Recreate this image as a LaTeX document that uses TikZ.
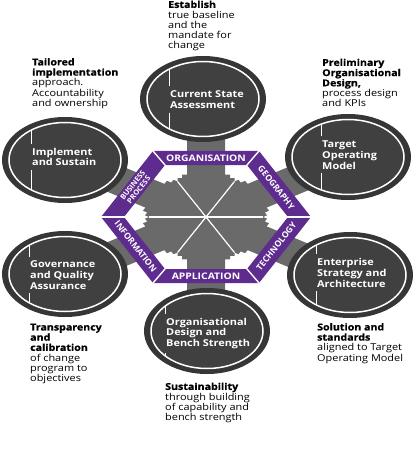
\documentclass[tikz,border=0pt]{standalone}
\usepackage{fontspec}
\setmainfont{Open Sans}
\newfontfamily\lbl[FakeStretch=1.15]{Open Sans}
\newfontfamily\lblheavy[FakeStretch=1.12, FakeBold=0.8]{Open Sans}
\newfontfamily\bandf{Open Sans}
\newcommand\heavytxt[1]{{\lblheavy\bfseries #1}}
\usetikzlibrary{shapes.geometric,calc}
\definecolor{hexpurple}{HTML}{5E2C8E}
\definecolor{ringgray}{HTML}{363636}
\definecolor{innergray}{HTML}{404040}
\definecolor{arrowgray}{HTML}{6A6A6A}
\begin{document}
\begin{tikzpicture}[x=1pt,y=-1pt,
  outerell/.style={ellipse, fill=ringgray, minimum width=126pt, minimum height=86pt, inner sep=0pt},
  innerell/.style={ellipse, draw=white, line width=1.5pt, fill=innergray, minimum width=112pt, minimum height=75pt, inner sep=0pt},
  circtext/.style={anchor=north west, inner sep=0pt, align=left, text=white, font=\lbl\bfseries\fontsize{9.5}{10.8}\selectfont},
  note/.style={anchor=north west, inner sep=0pt, align=left, text=black, font=\lbl\fontsize{9.5}{10.2}\selectfont},
  bandtext/.style={text=white, inner sep=0pt, font=\lbl\bfseries\fontsize{9}{9}\selectfont},
  rbandtext/.style={text=white, inner sep=0pt, font=\bandf\bfseries\fontsize{8.6}{8.6}\selectfont},
  band/.style={fill=hexpurple},
  cut/.style={white, line width=1.4pt},
  spoke/.style={white, line width=1.2pt},
  vline/.style={white, line width=1pt}
]
\useasboundingbox (0,0) rectangle (417,473);
\coordinate (hub) at (206,217);

% ---- gray arrows (interior sectors and connectors to the circles)
\begin{scope}[shift={(hub)}, yscale=0.72]
  \foreach \a in {0,60,...,300}{
    \fill[arrowgray, rotate=\a] (0,0) -- (28.5,49.4) -- (28.5,54) -- (24,54) -- (24,59) -- (19,59)
      -- (19,165) -- (-19,165) -- (-19,59) -- (-24,59) -- (-24,54) -- (-28.5,54) -- (-28.5,49.4) -- cycle;
  }
  \foreach \a in {0,60,...,300}{
    \draw[spoke, rotate=\a] (0,0) -- (57,0);
  }
\end{scope}

% ---- hexagon bands
\coordinate (oL) at (101,217);  \coordinate (iL) at (124,217);
\coordinate (oTL) at (153,151); \coordinate (iTL) at (165,165);
\coordinate (oTR) at (259,151); \coordinate (iTR) at (247,165);
\coordinate (oR) at (311,217);  \coordinate (iR) at (288,217);
\coordinate (oBR) at (259,283); \coordinate (iBR) at (247,269);
\coordinate (oBL) at (153,283); \coordinate (iBL) at (165,269);

\fill[band] (oTL) -- (oTR) -- (iTR) -- (iTL) -- cycle;
\fill[band] (oTR) -- (oR) -- (iR) -- (iTR) -- cycle;
\fill[band] (oR) -- (oBR) -- (iBR) -- (iR) -- cycle;
\fill[band] (oBR) -- (oBL) -- (iBL) -- (iBR) -- cycle;
\fill[band] (oBL) -- (oL) -- (iL) -- (iBL) -- cycle;
\fill[band] (oL) -- (oTL) -- (iTL) -- (iL) -- cycle;
\foreach \v in {L,TL,TR,R,BR,BL}{
  \draw[cut, shorten <=-1pt, shorten >=-1pt] (o\v) -- (i\v);
}

\node[bandtext] (tOrg) at (206,158.2) {ORGANISATION};
\node[bandtext] (tApp) at (206,276.2) {APPLICATION};
\node[rbandtext, rotate=-51.8] (tGeo) at (276.3,187.5) {GEOGRAPHY};
\node[rbandtext, rotate=51.8] (tTech) at (276.3,246.5) {TECHNOLOGY};
\node[rbandtext, rotate=-51.8] (tInf) at (135.7,246.5) {INFORMATION};
\node[rbandtext, rotate=51.8, align=center, font=\bandf\bfseries\fontsize{7.4}{7.6}\selectfont] (tBus) at (135.7,187.5) {BUSINESS\\PROCESS};

% ---- circles
\foreach \n/\x/\y in {cCSA/203/99, cTOM/348/157, cESA/350/275, cODB/207/331, cGQA/65/274, cIS/65/160}{
  \node[outerell] (\n) at (\x,\y) {};
  \node[innerell] (\n-in) at (\x,\y) {};
}

\node[circtext] (tCSA) at (170,90.4) {Current State\\Assessment};
\node[circtext] (tTOM) at (322,140.5) {Target\\Operating\\Model};
\node[circtext] (tESA) at (317,258) {Enterprise\\Strategy and\\Architecture};
\node[circtext] (tODB) at (166,317.7) {Organisational\\Design and\\Bench Strength};
\node[circtext] (tGQA) at (30,260.5) {Governance\\and Quality\\Assurance};
\node[circtext] (tIS) at (32,147.7) {Implement\\and Sustain};

\foreach \c/\t in {cCSA/tCSA, cTOM/tTOM, cESA/tESA, cODB/tODB, cGQA/tGQA, cIS/tIS}{
  \begin{scope}
    \clip (\c) ellipse [x radius=56pt, y radius=37.5pt];
    \draw[vline] (\t.north west) ++(-0.5,-4) -- ++(0,-50);
    \draw[vline] (\t.south west) ++(-0.5,4) -- ++(0,50);
  \end{scope}
}

% ---- annotations
\node[note] (nEst) at (168,0.5) {\heavytxt{Establish}\\true baseline\\and the\\mandate for\\change};
\node[note] (nTai) at (32,58) {\heavytxt{Tailored}\\\heavytxt{implementation}\\approach.\\Accountability\\and ownership};
\node[note] (nPre) at (322,58.5) {\heavytxt{Preliminary}\\\heavytxt{Organisational}\\\heavytxt{Design,}\\process design\\and KPIs};
\node[note] (nSol) at (317,323) {\heavytxt{Solution and}\\\heavytxt{standards}\\aligned to Target\\Operating Model};
\node[note] (nTra) at (30,323.5) {\heavytxt{Transparency}\\\heavytxt{and}\\\heavytxt{calibration}\\of change\\program to\\objectives};
\node[note] (nSus) at (165,382.5) {\heavytxt{Sustainability}\\through building\\of capability and\\bench strength};
\end{tikzpicture}
\end{document}
